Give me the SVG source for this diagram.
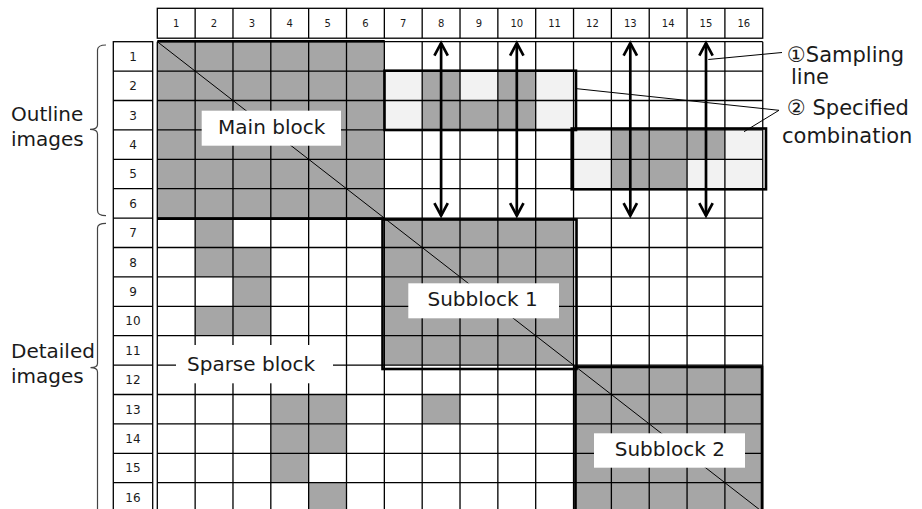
<svg xmlns="http://www.w3.org/2000/svg" width="922" height="509" viewBox="0 0 922 509">
<style>
.g{fill:#a6a6a6}
.l{fill:#f2f2f2}
.grid{fill:none;stroke:#000;stroke-width:1.3}
.thick{fill:none;stroke:#000;stroke-width:2.6}
.diag{fill:none;stroke:#000;stroke-width:1}
.box{fill:#fff}
.t{font-family:"DejaVu Sans","Noto Sans CJK JP",sans-serif;fill:#1a1a1a}
.big{font-size:20px}
.side{font-size:21px}
.hn{font-size:10px;text-anchor:middle}
.rn{font-size:12px;text-anchor:middle}
.mid{text-anchor:middle}
.arrow{fill:none;stroke:#000;stroke-width:2.7;marker-start:url(#chev);marker-end:url(#chev)}
.lead{fill:none;stroke:#000;stroke-width:1}
.brace{fill:none;stroke:#444;stroke-width:1.2}
</style>
<defs>
<marker id="chev" markerUnits="userSpaceOnUse" viewBox="-15 -9 20 18" refX="0" refY="0" markerWidth="20" markerHeight="18" orient="auto-start-reverse" overflow="visible">
<path d="M-12.5,-6.7 L0,0 L-12.5,6.7" fill="none" stroke="#000" stroke-width="2.7"/>
</marker>
</defs>
<rect width="922" height="509" fill="#fff"/>

<g id="header">
<rect x="157.3" y="8.3" width="605.44" height="29.9" fill="#fff" stroke="#000" stroke-width="1.3"/>
<path class="grid" d="M195.14,8.3V38.2M232.98,8.3V38.2M270.82,8.3V38.2M308.66,8.3V38.2M346.5,8.3V38.2M384.34,8.3V38.2M422.18,8.3V38.2M460.02,8.3V38.2M497.86,8.3V38.2M535.7,8.3V38.2M573.54,8.3V38.2M611.38,8.3V38.2M649.22,8.3V38.2M687.06,8.3V38.2M724.9,8.3V38.2"/>
<g class="t hn">
<text x="176.22" y="27">1</text><text x="214.06" y="27">2</text><text x="251.9" y="27">3</text><text x="289.74" y="27">4</text><text x="327.58" y="27">5</text><text x="365.42" y="27">6</text><text x="403.26" y="27">7</text><text x="441.1" y="27">8</text><text x="478.94" y="27">9</text><text x="516.78" y="27">10</text><text x="554.62" y="27">11</text><text x="592.46" y="27">12</text><text x="630.3" y="27">13</text><text x="668.14" y="27">14</text><text x="705.98" y="27">15</text><text x="743.82" y="27">16</text>
</g>
</g>

<g id="row-labels">
<rect x="113.3" y="41.7" width="39.4" height="470.4" fill="#fff" stroke="#000" stroke-width="1.3"/>
<path class="grid" d="M113.3,71.1H152.7M113.3,100.5H152.7M113.3,129.9H152.7M113.3,159.3H152.7M113.3,188.7H152.7M113.3,218.1H152.7M113.3,247.5H152.7M113.3,276.9H152.7M113.3,306.3H152.7M113.3,335.7H152.7M113.3,365.1H152.7M113.3,394.5H152.7M113.3,423.9H152.7M113.3,453.3H152.7M113.3,482.7H152.7"/>
<g class="t rn">
<text x="133" y="60.7">1</text><text x="133" y="90.1">2</text><text x="133" y="119.5">3</text><text x="133" y="148.9">4</text><text x="133" y="178.3">5</text><text x="133" y="207.7">6</text><text x="133" y="237.1">7</text><text x="133" y="266.5">8</text><text x="133" y="295.9">9</text><text x="133" y="325.3">10</text><text x="133" y="354.7">11</text><text x="133" y="384.1">12</text><text x="133" y="413.5">13</text><text x="133" y="442.9">14</text><text x="133" y="472.3">15</text><text x="133" y="501.7">16</text>
</g>
</g>

<g id="cells">
<rect class="g" x="157.3" y="41.7" width="227.04" height="176.4"/>
<rect class="l" x="384.34" y="71.1" width="189.2" height="58.8"/>
<rect class="g" x="422.18" y="71.1" width="37.84" height="29.4"/>
<rect class="g" x="497.86" y="71.1" width="37.84" height="29.4"/>
<rect class="g" x="422.18" y="100.5" width="113.52" height="29.4"/>
<rect class="l" x="573.54" y="129.9" width="189.2" height="58.8"/>
<rect class="g" x="611.38" y="129.9" width="113.52" height="29.4"/>
<rect class="g" x="611.38" y="159.3" width="75.68" height="29.4"/>
<rect class="g" x="195.14" y="218.1" width="37.84" height="29.4"/>
<rect class="g" x="195.14" y="247.5" width="75.68" height="29.4"/>
<rect class="g" x="232.98" y="276.9" width="37.84" height="29.4"/>
<rect class="g" x="195.14" y="306.3" width="75.68" height="29.4"/>
<rect class="g" x="270.82" y="394.5" width="75.68" height="58.8"/>
<rect class="g" x="270.82" y="453.3" width="37.84" height="29.4"/>
<rect class="g" x="308.66" y="482.7" width="37.84" height="29.4"/>
<rect class="g" x="384.34" y="218.1" width="189.2" height="147"/>
<rect class="g" x="422.18" y="394.5" width="37.84" height="29.4"/>
<rect class="g" x="573.54" y="365.1" width="189.2" height="147"/>
</g>

<g id="grid">
<path class="grid" d="M157.3,41.7V512.1M195.14,41.7V512.1M232.98,41.7V512.1M270.82,41.7V512.1M308.66,41.7V512.1M346.5,41.7V512.1M384.34,41.7V512.1M422.18,41.7V512.1M460.02,41.7V512.1M497.86,41.7V512.1M535.7,41.7V512.1M573.54,41.7V512.1M611.38,41.7V512.1M649.22,41.7V512.1M687.06,41.7V512.1M724.9,41.7V512.1M762.74,41.7V512.1"/>
<path class="grid" d="M157.3,41.7H762.74M157.3,71.1H762.74M157.3,100.5H762.74M157.3,129.9H762.74M157.3,159.3H762.74M157.3,188.7H762.74M157.3,218.1H762.74M157.3,247.5H762.74M157.3,276.9H762.74M157.3,306.3H762.74M157.3,335.7H762.74M157.3,365.1H762.74M157.3,394.5H762.74M157.3,423.9H762.74M157.3,453.3H762.74M157.3,482.7H762.74M157.3,512.1H762.74"/>
<line class="diag" x1="157.3" y1="41.7" x2="762.74" y2="512.1"/>
</g>

<g id="main-block">
<path class="thick" d="M157.3,41.3H384.8M157.3,218.6H384.8"/>
<rect class="box" x="201.7" y="110.7" width="139.3" height="35"/>
<text class="t big mid" x="271.7" y="134.3">Main block</text>
</g>

<g id="combination-1">
<rect class="thick" x="384.5" y="70.7" width="191.5" height="59.3"/>
</g>

<g id="combination-2">
<rect class="thick" x="571.7" y="128.5" width="194.3" height="60.8"/>
</g>

<g id="subblock-1">
<rect class="thick" x="382.5" y="219.5" width="194" height="149.5"/>
<rect class="box" x="408.3" y="283.3" width="150.7" height="35"/>
<text class="t big mid" x="482.6" y="306">Subblock 1</text>
</g>

<g id="subblock-2">
<rect class="thick" x="575.5" y="367" width="186.5" height="150"/>
<rect class="box" x="594" y="433.3" width="151" height="34.4"/>
<text class="t big mid" x="669.8" y="455.7">Subblock 2</text>
</g>

<g id="sparse-block">
<rect class="box" x="176" y="345" width="157" height="38.3"/>
<text class="t big mid" x="251" y="370.7">Sparse block</text>
</g>

<g id="outline-images">
<path class="brace" d="M106,45 Q97.5,45 97.5,50 V125 Q97.5,129.3 90,129.3 Q97.5,129.3 97.5,134 V210.5 Q97.5,215.7 106,215.7"/>
<text class="t big" x="11" y="120.7">Outline</text>
<text class="t big" x="11" y="145.5">images</text>
</g>

<g id="detailed-images">
<path class="brace" d="M106,223.3 Q97.5,223.3 97.5,228 V363.5 Q97.5,367.7 90.5,367.7 Q97.5,367.7 97.5,372 V512"/>
<text class="t big" x="11" y="358.3">Detailed</text>
<text class="t big" x="11" y="383.3">images</text>
</g>

<g id="sampling-label">
<text class="t side" x="787" y="61.7">①Sampling</text>
<text class="t side" x="791" y="84.3">line</text>
</g>

<g id="combination-label">
<text class="t side" x="787" y="115">② Specified</text>
<text class="t side" x="782" y="143.3">combination</text>
</g>

<g id="connectors">
<line class="arrow" x1="441.1" y1="43.2" x2="441.1" y2="215.6"/>
<line class="arrow" x1="516.8" y1="43.2" x2="516.8" y2="215.6"/>
<line class="arrow" x1="630.3" y1="43.2" x2="630.3" y2="215.6"/>
<line class="arrow" x1="706" y1="43.2" x2="706" y2="215.6"/>
<line class="lead" x1="708.3" y1="59.5" x2="782" y2="52.5"/>
<line class="lead" x1="575" y1="88.5" x2="779" y2="110.3"/>
<line class="lead" x1="744" y1="131.7" x2="779" y2="110.3"/>
</g>
</svg>
